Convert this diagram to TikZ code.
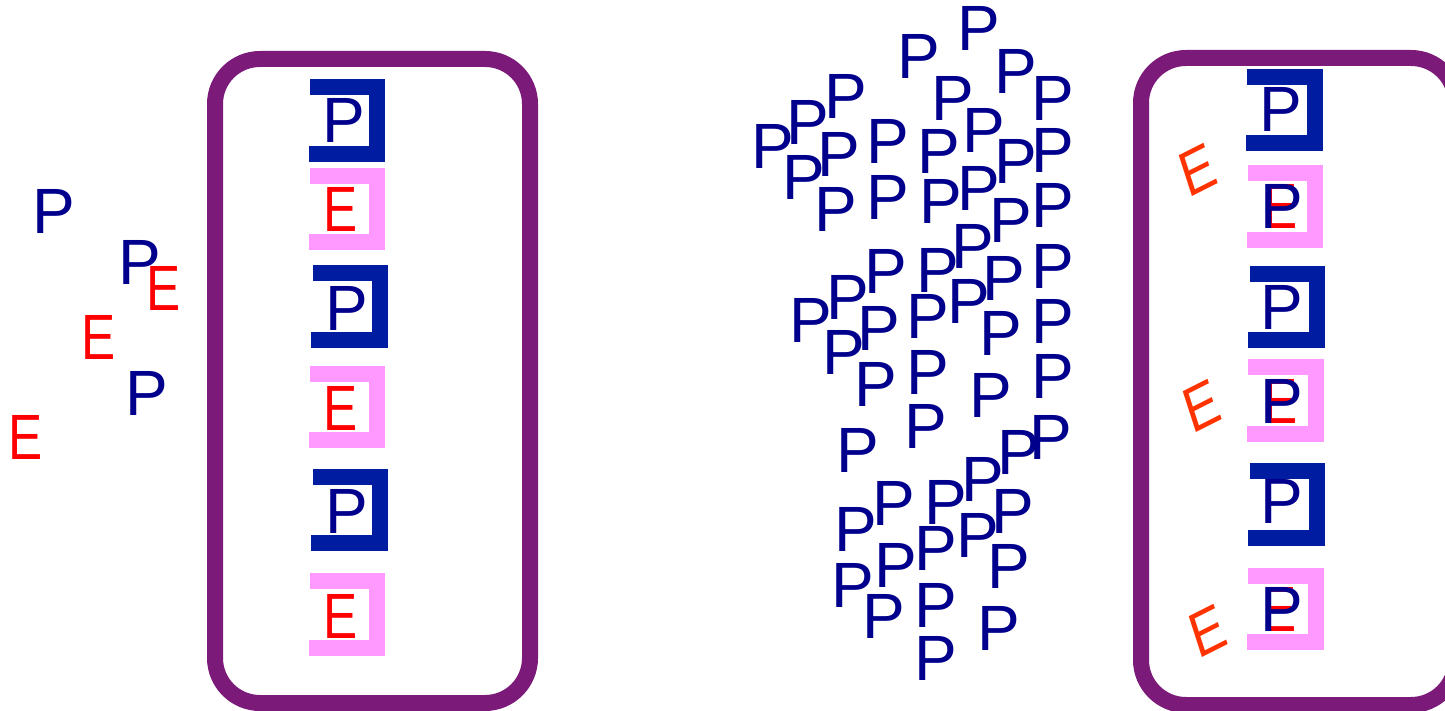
\documentclass[tikz,border=0pt]{standalone}
\usepackage{fontspec}
\setmainfont{Liberation Sans}
\definecolor{navyP}{RGB}{0,0,140}
\definecolor{brblue}{RGB}{0,28,160}
\definecolor{brpink}{RGB}{255,153,255}
\definecolor{boxpurple}{RGB}{123,26,120}
\definecolor{tiltred}{RGB}{255,51,0}
\tikzset{
  letter/.style={inner sep=0pt, outer sep=0pt, anchor=center,
    font=\fontsize{64pt}{64pt}\selectfont},
  pl/.style={letter, text=navyP},
  el/.style={letter, text=red, xscale=0.8},
  tl/.style={letter, text=tiltred, xscale=0.8, rotate=22},
  frame/.style={draw=boxpurple, line width=16pt, rounded corners=45pt},
  bracketblue/.style={draw=brblue, line width=16pt, miter limit=10},
  bracketpink/.style={draw=brpink, line width=16pt, miter limit=10}
}
\begin{document}
\begin{tikzpicture}[x=1pt, y=-1pt]
\useasboundingbox (0,0) rectangle (1445,711);
\clip (0,0) rectangle (1445,711);

% loose particles on the left
\node[pl] (lp1) at (54,211) {P};
\node[pl] (lp2) at (140,262) {P};
\node[el] (le1) at (164,288) {E};
\node[el] (le2) at (99,337) {E};
\node[pl] (lp3) at (147,393) {P};
\node[el] (le3) at (26,437) {E};

% left container
\draw[frame] (215,59) rectangle (530,703);
\draw[bracketblue] (310,87) -- (377,87) -- (377,154) -- (309,154);
\draw[bracketpink] (310,176) -- (377,176) -- (377,242) -- (309,242);
\draw[bracketblue] (313,273) -- (380,273) -- (380,340) -- (311,340);
\draw[bracketpink] (310,374) -- (377,374) -- (377,440) -- (309,440);
\draw[bracketblue] (313,477) -- (380,477) -- (380,543) -- (311,543);
\draw[bracketpink] (310,581) -- (377,581) -- (377,648) -- (309,648);
\node[pl] (bp1) at (344,120) {P};
\node[el] (be1) at (341,209) {E};
\node[pl] (bp2) at (347,308) {P};
\node[el] (be2) at (341,408) {E};
\node[pl] (bp3) at (347,511) {P};
\node[el] (be3) at (341,616) {E};

% cloud of particles in the middle
\foreach \x/\y [count=\i] in {979/28,919/56,1016/71,846/96,953/98,1053/98,
  808/122,984/130,773/146,888/141,939/151,839/154,1053/150,1016/161,
  804/177,888/197,941/201,979/188,1053/205,836/209,1011/220,973/246,
  886/271,938/270,1053/266,1004/278,848/297,969/301,811/320,928/316,
  1053/321,879/328,844/352,1001/333,876/384,928/372,991/395,1053/376,
  926/426,1051/437,1019/452,858/450,983/479,894/503,946/502,1013/511,
  856/529,978/535,936/548,896/565,1009/566,853/585,936/605,884/616,
  999/628,936/658}
  \node[pl] (c\i) at (\x,\y) {P};

% right container
\draw[frame] (1141,58) rectangle (1456,705);
\draw[bracketblue] (1247,77) -- (1315,77) -- (1315,143) -- (1246,143);
\draw[bracketpink] (1248,173) -- (1315,173) -- (1315,240) -- (1247,240);
\draw[bracketblue] (1250,274) -- (1317,274) -- (1317,340) -- (1248,340);
\draw[bracketpink] (1248,367) -- (1316,367) -- (1316,434) -- (1247,434);
\draw[bracketblue] (1250,471) -- (1317,471) -- (1317,538) -- (1248,538);
\draw[bracketpink] (1248,576) -- (1316,576) -- (1316,642) -- (1247,642);
\node[pl] (rp1) at (1281,109) {P};
\node[el] (re1) at (1281,206) {E};
\node[pl] (rq1) at (1282,206) {P};
\node[pl] (rp2) at (1282,307) {P};
\node[el] (re2) at (1281,401) {E};
\node[pl] (rq2) at (1282,401) {P};
\node[pl] (rp3) at (1282,501) {P};
\node[el] (re3) at (1280,609) {E};
\node[pl] (rq3) at (1282,609) {P};
\node[tl] (rt1) at (1198,170) {E};
\node[tl] (rt2) at (1202,406) {E};
\node[tl] (rt3) at (1208,631) {E};
\end{tikzpicture}
\end{document}
